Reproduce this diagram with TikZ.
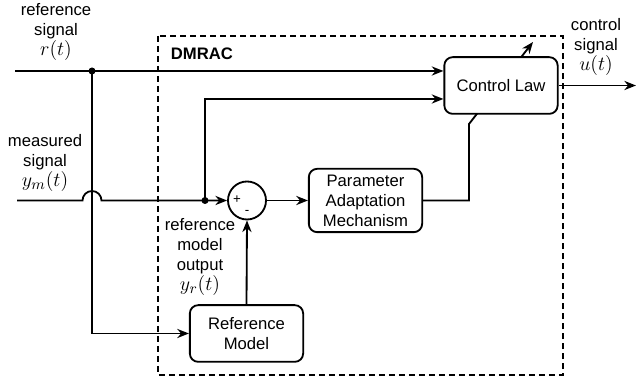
\documentclass[tikz,border=0pt]{standalone}
\usepackage{fontspec}
\setmainfont{Liberation Sans}
\usetikzlibrary{positioning, arrows.meta}
\newcommand{\sigvar}[1]{{\fontsize{13pt}{12pt}\selectfont$#1$}}

\begin{document}
\begin{tikzpicture}[x = 0.6pt, y = -0.6pt,
    block/.style = {draw, line width = 1.1pt, rounded corners = 5pt, fill = white,
                    align = center, inner sep = 1pt, minimum width = 68pt, minimum height = 34pt},
    summer/.style = {draw, line width = 1.1pt, circle, minimum size = 22.8pt, inner sep = 0pt},
    wire/.style = {line width = 1.1pt},
    sig/.style = {wire, -{Stealth[length = 7pt, width = 5.5pt]}},
    lbl/.style = {align = center, inner sep = 0pt}]
    \useasboundingbox (0,0) rectangle (637,383);

    \draw[wire, dash pattern = on 3.5pt off 2.5pt] (158,36) rectangle (563,375);
    \node[font = \bfseries, anchor = west] (title) at (165,54) {DMRAC};

    \node[block, minimum height = 38pt] (pam) at (365.5,200.5) {Parameter\\Adaptation\\Mechanism};
    \node[block] (refm) at (246.5,333.5) {Reference\\Model};
    \node[summer] (sum) at (247,200.5) {};
    \node[font = \footnotesize, inner sep = 0pt] (plus) at (237,200) {+};
    \node[font = \footnotesize, inner sep = 0pt] (minus) at (247,212) {-};

    \coordinate (kink) at (469,124);
    \coordinate (tune) at (533,42);
    \draw[sig] (pam.east) -| (kink) -- (tune);

    \node[block] (law) at (501,85.5) {Control Law};

    \coordinate (rin) at (15,71);
    \coordinate (rjoin) at (92,71);
    \coordinate (ymin) at (17,200.5);
    \coordinate (ymjoin) at (205,200.5);
    \coordinate (fb) at (205,99);
    \coordinate (uout) at (636,85.5);

    \draw[sig] (rin) -- (rin -| law.west);
    \draw[sig] (rjoin) |- (refm.west);
    \draw[sig] (ymin) -- (82.5,200.5) arc[start angle = 180, end angle = 0, radius = 5.7pt]
        -- (sum.west);
    \draw[sig] (ymjoin) -- (fb) -- (fb -| law.west);
    \draw[sig] (sum.east) -- (pam.west);
    \draw[sig] (refm.north) -- (sum.south);
    \draw[sig] (law.east) -- (uout);
    \fill (rjoin) circle (2.1pt);
    \fill (ymjoin) circle (2.1pt);

    \node[lbl] (rlbl) at (56,32) {reference\\signal\\\sigvar{r(t)}};
    \node[lbl] (ymlbl) at (45,163) {measured\\signal\\\sigvar{y_m(t)}};
    \node[lbl] (ulbl) at (596,47) {control\\signal\\\sigvar{u(t)}};
    \node[lbl] (yrlbl) at (200,257) {reference\\model\\output\\\sigvar{y_r(t)}};
\end{tikzpicture}
\end{document}
